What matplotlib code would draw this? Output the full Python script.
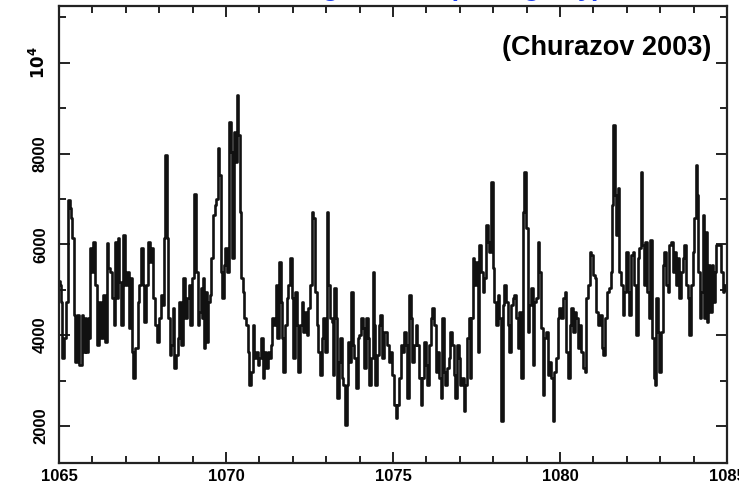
import matplotlib
matplotlib.use("Agg")
import matplotlib.pyplot as plt
from matplotlib.ticker import MultipleLocator, FixedLocator, FixedFormatter

# ---- data ----
time = [
    1065.00, 1065.03, 1065.06, 1065.11, 1065.16, 1065.23, 1065.30, 1065.33, 1065.37, 1065.41,
    1065.46, 1065.51, 1065.58, 1065.64, 1065.71, 1065.75, 1065.79, 1065.83, 1065.88, 1065.91,
    1065.96, 1065.99, 1066.06, 1066.11, 1066.19, 1066.23, 1066.29, 1066.36, 1066.41, 1066.45,
    1066.51, 1066.56, 1066.61, 1066.66, 1066.71, 1066.76, 1066.79, 1066.83, 1066.89, 1066.96,
    1067.01, 1067.06, 1067.11, 1067.16, 1067.21, 1067.24, 1067.29, 1067.33, 1067.38, 1067.43,
    1067.47, 1067.53, 1067.58, 1067.63, 1067.68, 1067.74, 1067.79, 1067.84, 1067.91, 1067.96,
    1068.03, 1068.09, 1068.13, 1068.17, 1068.20, 1068.24, 1068.28, 1068.34, 1068.39, 1068.43,
    1068.48, 1068.53, 1068.58, 1068.63, 1068.69, 1068.74, 1068.81, 1068.86, 1068.91, 1068.96,
    1069.01, 1069.07, 1069.14, 1069.16, 1069.22, 1069.26, 1069.29, 1069.32, 1069.36, 1069.40,
    1069.44, 1069.49, 1069.54, 1069.59, 1069.64, 1069.69, 1069.74, 1069.78, 1069.82, 1069.87,
    1069.92, 1069.96, 1070.01, 1070.06, 1070.11, 1070.16, 1070.21, 1070.26, 1070.30, 1070.35,
    1070.39, 1070.42, 1070.47, 1070.52, 1070.56, 1070.62, 1070.67, 1070.72, 1070.77, 1070.82,
    1070.87, 1070.92, 1070.97, 1071.02, 1071.07, 1071.12, 1071.17, 1071.22, 1071.27, 1071.32,
    1071.37, 1071.41, 1071.46, 1071.51, 1071.56, 1071.61, 1071.66, 1071.70, 1071.74, 1071.79,
    1071.84, 1071.89, 1071.94, 1071.99, 1072.04, 1072.09, 1072.14, 1072.19, 1072.24, 1072.29,
    1072.34, 1072.39, 1072.44, 1072.49, 1072.54, 1072.59, 1072.64, 1072.69, 1072.74, 1072.79,
    1072.84, 1072.89, 1072.94, 1072.99, 1073.04, 1073.09, 1073.14, 1073.19, 1073.22, 1073.27,
    1073.32, 1073.35, 1073.39, 1073.44, 1073.49, 1073.54, 1073.59, 1073.63, 1073.67, 1073.72,
    1073.77, 1073.82, 1073.87, 1073.92, 1073.97, 1074.02, 1074.07, 1074.12, 1074.17, 1074.22,
    1074.27, 1074.32, 1074.37, 1074.41, 1074.45, 1074.50, 1074.55, 1074.60, 1074.65, 1074.70,
    1074.75, 1074.80, 1074.85, 1074.90, 1074.95, 1075.00, 1075.05, 1075.10, 1075.15, 1075.20,
    1075.25, 1075.30, 1075.35, 1075.40, 1075.45, 1075.50, 1075.55, 1075.60, 1075.65, 1075.70,
    1075.75, 1075.80, 1075.85, 1075.90, 1075.95, 1076.00, 1076.05, 1076.10, 1076.15, 1076.20,
    1076.25, 1076.30, 1076.35, 1076.40, 1076.45, 1076.49, 1076.54, 1076.59, 1076.64, 1076.69,
    1076.74, 1076.79, 1076.84, 1076.89, 1076.94, 1076.99, 1077.04, 1077.09, 1077.14, 1077.19,
    1077.24, 1077.29, 1077.33, 1077.36, 1077.41, 1077.46, 1077.51, 1077.56, 1077.61, 1077.66,
    1077.71, 1077.76, 1077.81, 1077.86, 1077.91, 1077.96, 1078.01, 1078.06, 1078.11, 1078.16,
    1078.21, 1078.26, 1078.31, 1078.36, 1078.41, 1078.46, 1078.51, 1078.56, 1078.61, 1078.66,
    1078.71, 1078.76, 1078.81, 1078.86, 1078.91, 1078.96, 1079.01, 1079.06, 1079.11, 1079.16,
    1079.21, 1079.26, 1079.31, 1079.36, 1079.41, 1079.46, 1079.51, 1079.56, 1079.61, 1079.66,
    1079.71, 1079.76, 1079.81, 1079.86, 1079.91, 1079.96, 1080.01, 1080.06, 1080.11, 1080.16,
    1080.21, 1080.26, 1080.31, 1080.36, 1080.41, 1080.46, 1080.51, 1080.56, 1080.61, 1080.66,
    1080.71, 1080.76, 1080.81, 1080.86, 1080.91, 1080.96, 1081.01, 1081.06, 1081.11, 1081.16,
    1081.22, 1081.27, 1081.32, 1081.37, 1081.42, 1081.50, 1081.55, 1081.58, 1081.62, 1081.66,
    1081.70, 1081.75, 1081.80, 1081.85, 1081.90, 1081.95, 1082.00, 1082.05, 1082.10, 1082.15,
    1082.20, 1082.25, 1082.30, 1082.35, 1082.40, 1082.44, 1082.48, 1082.53, 1082.58, 1082.63,
    1082.68, 1082.73, 1082.78, 1082.82, 1082.86, 1082.90, 1082.95, 1083.00, 1083.05, 1083.10,
    1083.15, 1083.20, 1083.25, 1083.30, 1083.35, 1083.40, 1083.45, 1083.50, 1083.55, 1083.60,
    1083.65, 1083.70, 1083.75, 1083.80, 1083.85, 1083.90, 1083.95, 1084.00, 1084.04, 1084.08,
    1084.12, 1084.16, 1084.20, 1084.25, 1084.30, 1084.35, 1084.38, 1084.42, 1084.47, 1084.52,
    1084.57, 1084.62, 1084.67, 1084.70, 1084.80, 1084.85, 1084.90, 1084.95, 1085.00,
]
flux = [
    5200, 5100, 4740, 3500, 3930, 4740, 6980, 6800, 6580, 6130,
    4450, 3420, 4450, 3340, 4450, 3640, 4370, 3640, 4370, 3930,
    5910, 5400, 6060, 5100, 3780, 4740, 3930, 4890, 3860, 6020,
    5470, 5400, 4810, 4230, 6060, 4810, 6130, 5180, 4230, 6210,
    5100, 5400, 4150, 5250, 3640, 3050, 3710, 3710, 4740, 5100,
    5910, 5100, 4300, 5100, 6060, 5620, 5910, 4810, 4230, 3860,
    4370, 4890, 4670, 6130, 7970, 6130, 4370, 3560, 3780, 4590,
    3270, 3560, 3930, 4740, 3780, 5250, 4370, 4810, 5100, 4230,
    5250, 7100, 5400, 4230, 4520, 5030, 4370, 5250, 3710, 4960,
    3860, 4740, 4890, 5690, 6650, 6870, 7010, 8120, 7530, 5400,
    4810, 5550, 5910, 5400, 8700, 8040, 5690, 8480, 7820, 9290,
    8410, 6720, 5250, 4960, 4370, 4230, 3640, 2900, 3200, 4230,
    3490, 3640, 3340, 3490, 3930, 3050, 3640, 3270, 3640, 3490,
    3780, 4370, 4230, 5100, 3930, 5620, 4740, 3930, 3200, 4230,
    4810, 5100, 5690, 4810, 3490, 4960, 4230, 3200, 4230, 4740,
    4080, 4520, 4010, 4590, 5100, 6720, 6580, 4960, 4230, 3640,
    3120, 3930, 4370, 3640, 6720, 5100, 4370, 4300, 3120, 5030,
    4370, 2610, 3420, 3930, 3050, 2900, 2020, 2900, 3860, 3420,
    4960, 3780, 3490, 2830, 3930, 4010, 4370, 4150, 3270, 4370,
    3930, 2900, 3490, 5400, 4230, 2900, 3560, 4230, 4450, 3490,
    4080, 4080, 3780, 3420, 3640, 3120, 2460, 2170, 2460, 3050,
    3780, 3640, 4080, 3780, 2610, 4890, 4370, 3420, 3780, 4230,
    3780, 3050, 2460, 3050, 3860, 3340, 2900, 3780, 4370, 4590,
    4230, 3200, 3640, 3050, 2610, 4370, 3200, 2900, 3270, 3490,
    4080, 3780, 3120, 2610, 3780, 3490, 2900, 3050, 2320, 2900,
    3930, 4370, 3050, 4370, 5690, 5100, 5620, 3640, 5990, 5400,
    4960, 5250, 6430, 6060, 5840, 7380, 5470, 4740, 4230, 4890,
    4370, 2100, 4670, 5100, 4740, 4230, 3640, 4670, 4810, 4890,
    4370, 3710, 4520, 3050, 6720, 7600, 6350, 4080, 4670, 5030,
    3340, 4740, 4810, 6060, 5400, 4150, 2680, 3930, 4080, 3120,
    3420, 3050, 2100, 3200, 3490, 4370, 4590, 4370, 4810, 4960,
    3640, 3050, 4230, 4590, 4080, 4520, 4370, 3710, 4230, 3640,
    3270, 3200, 4810, 5100, 5840, 5770, 5330, 5250, 4520, 4230,
    4450, 3710, 3560, 4370, 4960, 5030, 5400, 6870, 8630, 7090,
    6210, 7240, 5400, 5100, 4450, 4960, 5840, 4960, 4450, 5770,
    5840, 5100, 4010, 5690, 5910, 7600, 5990, 5100, 6060, 4960,
    4370, 6100, 3930, 3050, 2900, 4810, 4080, 3200, 4080, 5550,
    5840, 5100, 4960, 5990, 6060, 5400, 5840, 5100, 5690, 4810,
    5400, 5690, 5990, 5100, 4810, 4010, 5100, 5840, 6580, 7750,
    7090, 5400, 4370, 4960, 6650, 4370, 6280, 4300, 5550, 4520,
    5550, 4740, 5400, 5990, 5990, 5400, 4960, 5100, 5000,
]

x_major = [1065, 1070, 1075, 1080, 1085]
x_labels = ["1065", "1070", "1075", "1080", "1085"]
y_major = [2000, 4000, 6000, 8000, 10000]
y_labels = ["2000", "4000", "6000", "8000", r"$\mathbf{10^4}$"]

plt.rcParams["font.family"] = ["Liberation Sans", "DejaVu Sans"]

W, H = 739, 495
fig = plt.figure(figsize=(W / 100, H / 100), dpi=100)
ax = fig.add_axes([59 / W, (H - 463) / H, (727 - 59) / W, (463 - 6) / H])

ax.plot(time, flux, drawstyle="steps-mid", color="#111111", lw=1.9)

ax.set_xlim(1065, 1085)
ax.set_ylim(1185, 11250)

ax.xaxis.set_major_locator(FixedLocator(x_major))
ax.xaxis.set_major_formatter(FixedFormatter(x_labels))
ax.xaxis.set_minor_locator(MultipleLocator(1))
ax.yaxis.set_major_locator(FixedLocator(y_major))
ax.yaxis.set_major_formatter(FixedFormatter(y_labels))
ax.yaxis.set_minor_locator(MultipleLocator(1000))

ax.tick_params(which="both", direction="in", top=True, right=True, color="#222222", width=1.4)
ax.tick_params(which="major", length=8)
ax.tick_params(which="minor", length=5)
ax.tick_params(axis="x", which="major", pad=4, labelsize=12)
ax.tick_params(axis="y", which="major", pad=8, labelsize=12)
for lab in ax.get_xticklabels():
    lab.set_fontweight("bold")
for lab in ax.get_yticklabels():
    lab.set_fontweight("bold")
    lab.set_rotation(90)
    lab.set_va("center")

for sp in ax.spines.values():
    sp.set_linewidth(1.6)
    sp.set_color("#222222")

ax.text(0.977, 0.908, "(Churazov 2003)", transform=ax.transAxes, ha="right", va="center",
        fontsize=19.5, fontweight="bold", color="black")

fig.text(299 / W, 1.008, "Light curve (strong day)", ha="left", va="baseline",
         fontsize=19, fontweight="bold", color="#1a3cf0")

fig.savefig("out.png", dpi=100, facecolor="white")
